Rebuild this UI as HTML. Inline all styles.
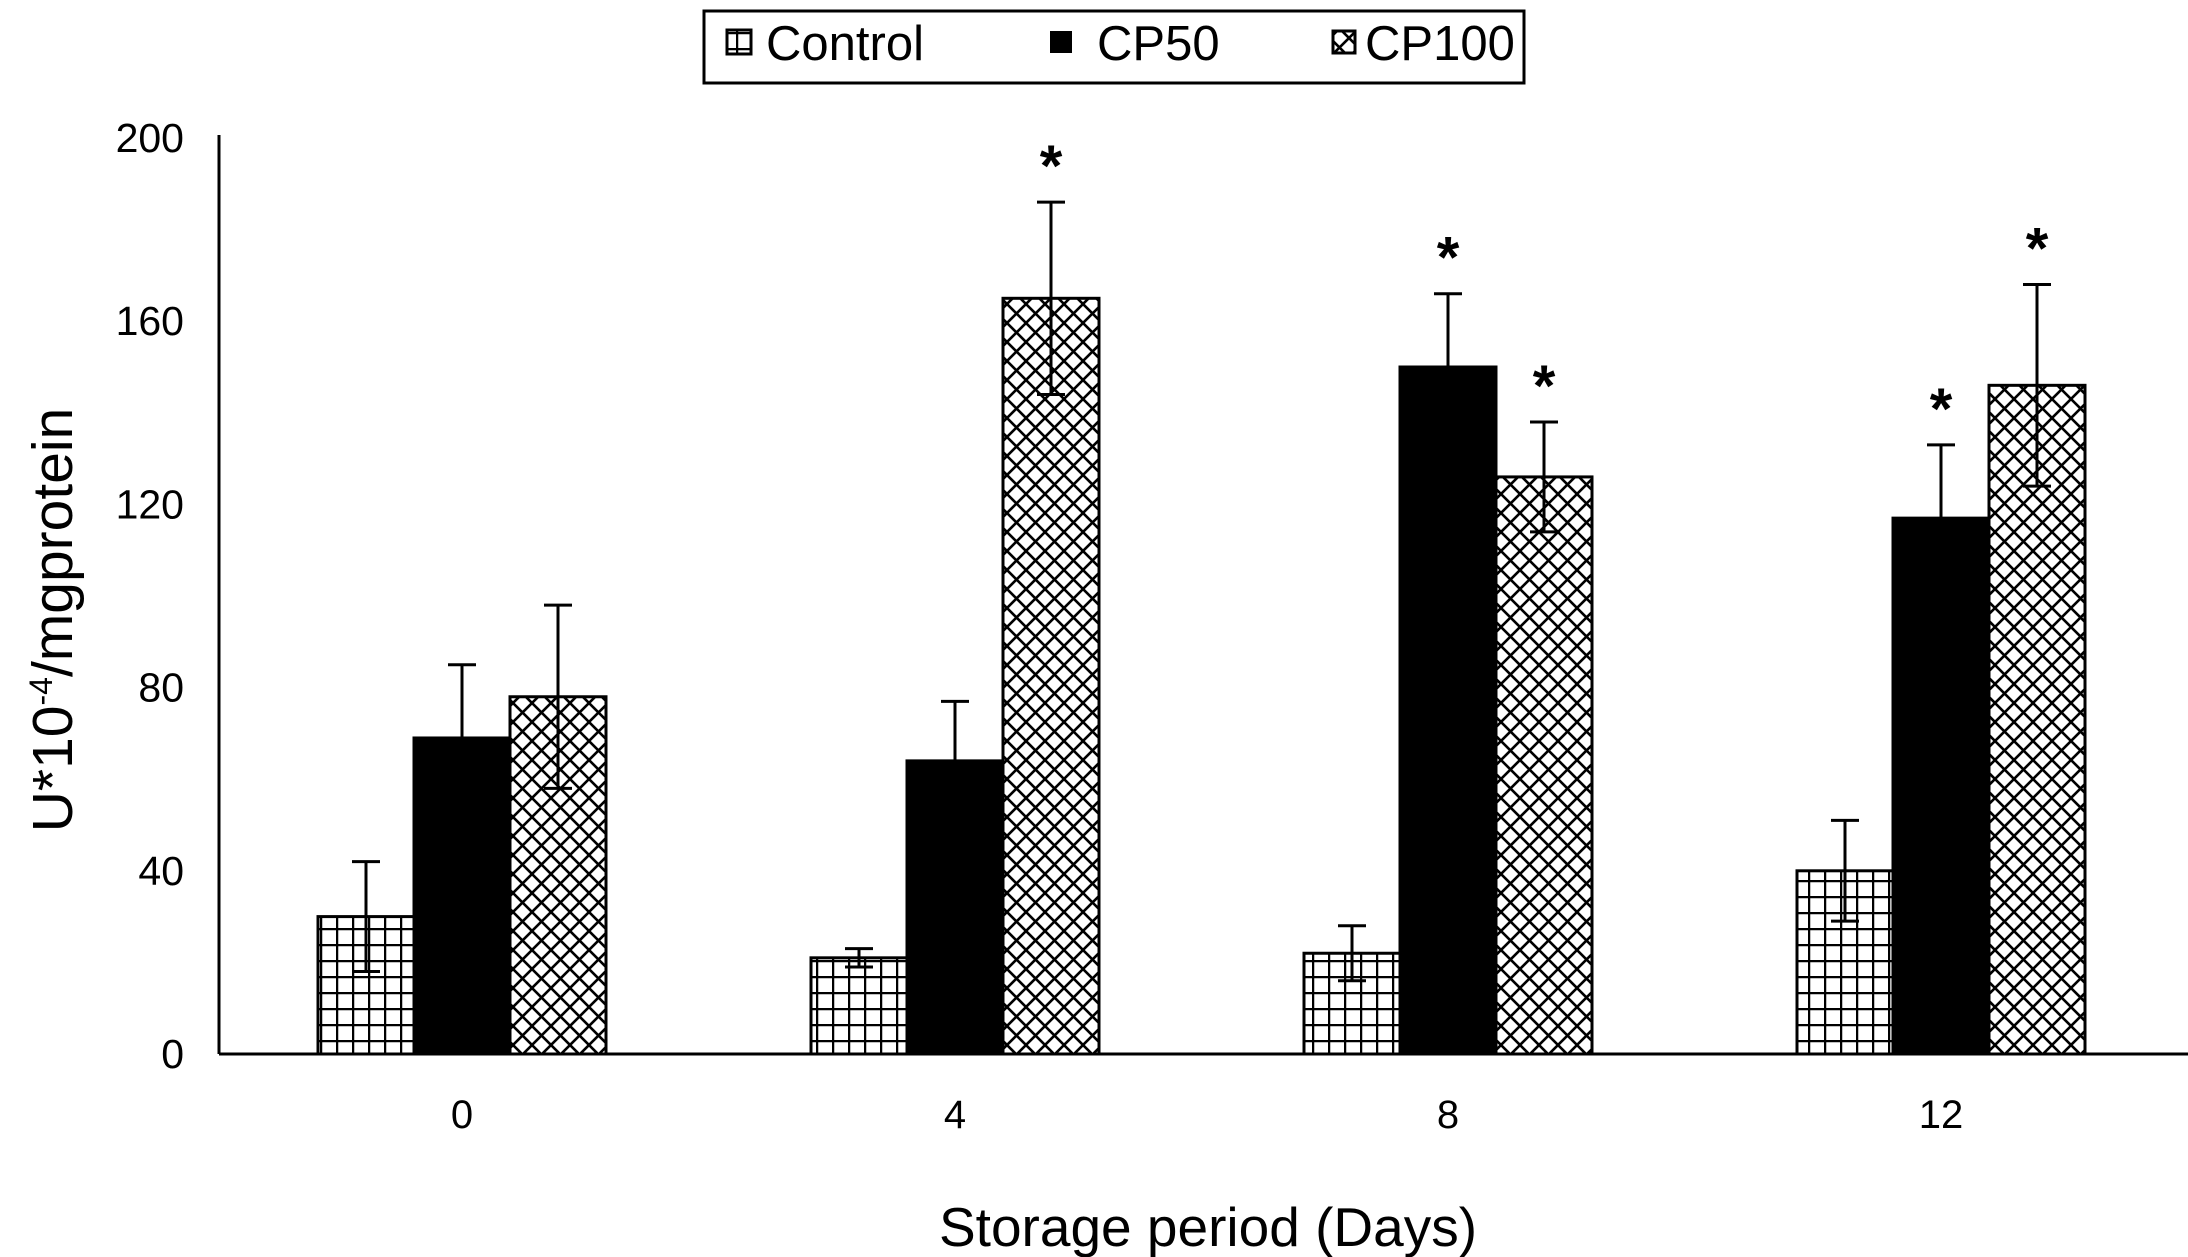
<!DOCTYPE html>
<html><head><meta charset="utf-8"><style>
html,body{margin:0;padding:0;background:#fff;}
svg{display:block;font-family:"Liberation Sans",Arial,sans-serif;}
</style></head><body>
<svg id="chart" width="2188" height="1257" viewBox="0 0 2188 1257">
<defs>
<pattern id="grid" width="16" height="16" patternUnits="userSpaceOnUse">
<rect width="16" height="16" fill="#fff"/>
<path d="M0 0H16M0 0V16" stroke="#000" stroke-width="4.5"/>
</pattern>
<pattern id="cross" width="19" height="19" patternUnits="userSpaceOnUse">
<rect width="19" height="19" fill="#fff"/>
<path d="M0 0L19 19M19 0L0 19" stroke="#000" stroke-width="2.6"/>
</pattern>
</defs>
<g>
<rect x="704" y="11" width="820" height="72" fill="#fff" stroke="#000" stroke-width="3"/>
<g>
<rect x="727" y="30" width="24" height="24" fill="url(#grid)" stroke="#000" stroke-width="3"/>
<text x="766" y="60" font-size="49">Control</text></g>
<g>
<rect x="1050" y="31" width="22" height="22" fill="#000"/>
<text x="1097" y="60" font-size="49">CP50</text></g>
<g>
<rect x="1333" y="31" width="22" height="22" fill="url(#cross)" stroke="#000" stroke-width="3"/>
<text x="1365" y="60" font-size="49">CP100</text></g>
</g>
<text transform="translate(72,620) rotate(-90)" text-anchor="middle" font-size="57">U*10<tspan font-size="32" dy="-20">-4</tspan><tspan dy="20">/mgprotein</tspan></text>
<text x="1208" y="1246" text-anchor="middle" font-size="55">Storage period (Days)</text>
<g id="plot"></g>
</svg>
<script>
const categories = ["0","4","8","12"];
const seriesNames = ["Control","CP50","CP100"];
const controlVals = [30,21,22,40];
const cp50Vals = [69,64,150,117];
const cp100Vals = [78,165,126,146];
const controlErr = [12,2,6,11];
const cp50Err = [16,13,16,16];
const cp100Err = [20,21,12,22];
const sigCP50 = [false,false,true,true];
const sigCP100 = [false,true,true,true];
const yTicks = [0,40,80,120,160,200];

const NS="http://www.w3.org/2000/svg";
const plot=document.getElementById('plot');
const x0=219, x1=2188, yBase=1054, yTop=138, yMax=200;
const yScale=v=>yBase-(v/yMax)*(yBase-yTop);
const groupCenter=i=>462+i*493;
const barW=96;
function mk(tag,attrs){const e=document.createElementNS(NS,tag);for(const k in attrs)e.setAttribute(k,attrs[k]);plot.appendChild(e);return e;}

const series=[controlVals,cp50Vals,cp100Vals];
const errs=[controlErr,cp50Err,cp100Err];
const fills=["url(#grid)","#000","url(#cross)"];
const sigs=[null,sigCP50,sigCP100];
categories.forEach((c,i)=>{
  series.forEach((vals,s)=>{
    const cx=groupCenter(i)+(s-1)*barW;
    const y=yScale(vals[i]);
    const r=mk('rect',{x:cx-barW/2,y:y,width:barW,height:yBase-y,fill:fills[s],stroke:'#000','stroke-width':3});
    
    
    const yt=yScale(vals[i]+errs[s][i]), yb=yScale(vals[i]-errs[s][i]);
    const g=mk('path',{d:`M${cx} ${yt}V${yb}M${cx-14} ${yt}H${cx+14}M${cx-14} ${yb}H${cx+14}`,stroke:'#000','stroke-width':3,fill:'none'});
    
    
    if(sigs[s]&&sigs[s][i]){
      const t=mk('text',{x:cx,y:yt-16,'text-anchor':'middle','font-size':58,'font-weight':'bold'});
      t.textContent='*';
      
      
    }
  });
  const lt=mk('text',{x:groupCenter(i),y:1128,'text-anchor':'middle','font-size':40});
  lt.textContent=c;
  
  
});
yTicks.forEach(v=>{
  const t=mk('text',{x:184,y:yScale(v)+14,'text-anchor':'end','font-size':41});
  t.textContent=v;
  
  
});
const ya=mk('line',{x1:x0,y1:yTop-3,x2:x0,y2:yBase,stroke:'#000','stroke-width':3});


const xa=mk('line',{x1:x0,y1:yBase,x2:x1,y2:yBase,stroke:'#000','stroke-width':3});


</script>
</body></html>
